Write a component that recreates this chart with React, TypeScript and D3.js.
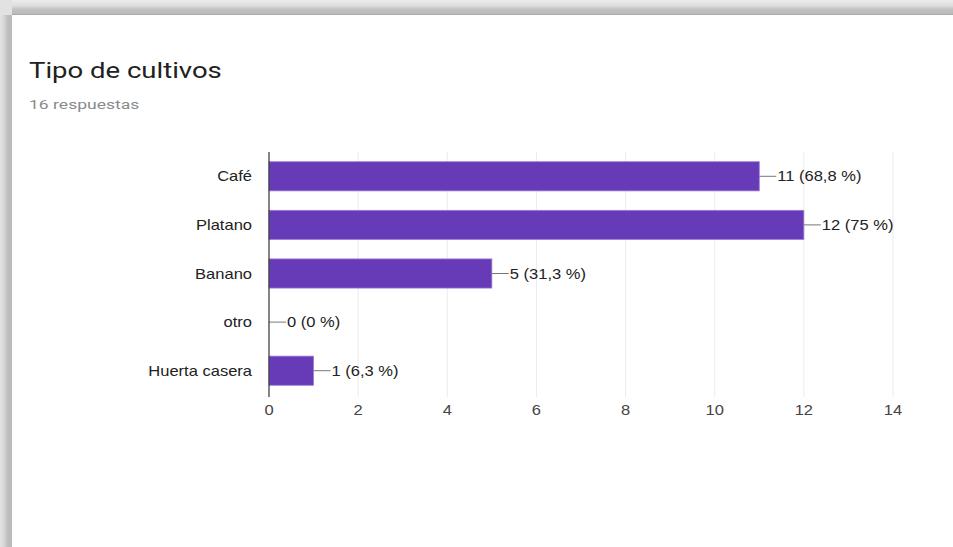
import React from "react";
import * as d3 from "d3";

const categories = ["Café", "Platano", "Banano", "otro", "Huerta casera"];
const counts = [11, 12, 5, 0, 1];
const percentLabels = ["68,8 %", "75 %", "31,3 %", "0 %", "6,3 %"];
const xTicks = [0, 2, 4, 6, 8, 10, 12, 14];
const title = "Tipo de cultivos";
const subtitle = "16 respuestas";

const W = 953;
const H = 547;
const plot = { left: 269, right: 893, top: 152, bottom: 395 };
const SX = 1.18;

function T(props: {
  x: number;
  y: number;
  sx?: number;
  anchor?: "start" | "middle" | "end";
  size: number;
  fill: string;
  family: string;
  children: React.ReactNode;
}) {
  const sx = props.sx ?? SX;
  return (
    <text
      transform={`translate(${props.x},${props.y}) scale(${sx},1)`}
      textAnchor={props.anchor ?? "start"}
      fontFamily={props.family}
      fontSize={props.size}
      fill={props.fill}
    >
      {props.children}
    </text>
  );
}

export default function App() {
  const x = d3.scaleLinear().domain([0, 14]).range([plot.left, plot.right]);
  const y = d3
    .scaleBand<string>()
    .domain(categories)
    .range([plot.top, plot.bottom])
    .paddingInner(0.4)
    .paddingOuter(0.2);
  const font = "'Liberation Sans', Arial, sans-serif";
  const roboto = "Roboto, 'Liberation Sans', sans-serif";
  return (
    <div style={{ position: "fixed", left: 0, top: 0 }}>
      <svg width={W} height={H} style={{ display: "block" }}>
        <defs>
          <linearGradient id="topG" x1="0" y1="0" x2="0" y2="1">
            <stop offset="0" stopColor="#ececec" />
            <stop offset="0.4" stopColor="#dcdcdc" />
            <stop offset="0.6" stopColor="#c2c2c2" />
            <stop offset="0.93" stopColor="#bababa" />
            <stop offset="1" stopColor="#9a9a9a" />
          </linearGradient>
          <linearGradient id="leftG" x1="0" y1="0" x2="1" y2="0">
            <stop offset="0" stopColor="#e4e4e4" />
            <stop offset="0.35" stopColor="#d6d6d6" />
            <stop offset="0.6" stopColor="#c0c0c0" />
            <stop offset="1" stopColor="#b8b8b8" />
          </linearGradient>
        </defs>
        <rect x={0} y={0} width={W} height={H} fill="#ffffff" />
        <rect x={0} y={0} width={W} height={15} fill="url(#topG)" />
        <rect x={0} y={0} width={12} height={H} fill="url(#leftG)" />
        <rect x={0} y={0} width={12} height={15} fill="#e2e2e2" />

        <T x={29} y={78} sx={1.25} size={22} family={roboto} fill="#212121">
          {title}
        </T>
        <T x={29} y={109} sx={1.3} size={13.5} family={roboto} fill="#8a8a8a">
          {subtitle}
        </T>

        {xTicks.map((t) => (
          <g key={t}>
            {t !== 0 && (
              <line x1={x(t)} x2={x(t)} y1={plot.top} y2={plot.bottom + 2} stroke="#ebebeb" strokeWidth={1} />
            )}
            <T x={x(t)} y={415} anchor="middle" family={font} size={14} fill="#444">
              {t}
            </T>
          </g>
        ))}

        {categories.map((c, i) => {
          const by = y(c) as number;
          const bh = y.bandwidth();
          const cy = by + bh / 2;
          const xe = x(counts[i]);
          return (
            <g key={c}>
              <T x={252} y={cy + 5} anchor="end" family={font} size={14} fill="#222">
                {c}
              </T>
              {counts[i] > 0 && (
                <rect x={x(0)} y={by} width={xe - x(0)} height={bh} fill="#673ab7" stroke="#9b7fd4" strokeWidth={0.8} />
              )}
              <line x1={xe} x2={xe + 17} y1={cy} y2={cy} stroke="#777" strokeWidth={1} />
              <T x={xe + 18} y={cy + 5} family={font} size={14} fill="#222">
                {`${counts[i]} (${percentLabels[i]})`}
              </T>
            </g>
          );
        })}

        <line x1={x(0)} x2={x(0)} y1={plot.top} y2={plot.bottom + 2} stroke="#333" strokeWidth={1.2} />
      </svg>
    </div>
  );
}
